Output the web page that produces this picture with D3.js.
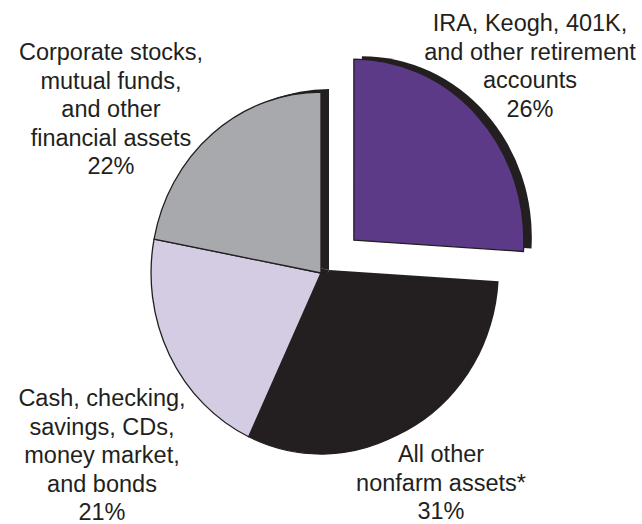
<!DOCTYPE html>
<html lang="en">
<head>
  <meta charset="UTF-8">
  <title>Household assets pie</title>
  <script src="https://d3js.org/d3.v7.min.js"></script>
  <style>
    body { margin: 0; background: #fff; }
    svg { display: block; }
    .label { font-family: "Liberation Sans", Arial, Helvetica, sans-serif; font-size: 23.5px; fill: #231f20; }
  </style>
</head>
<body>
  <svg width="642" height="524"></svg>

  <script>
    // slices, clockwise from 12 o'clock
    const categories = [
      "IRA, Keogh, 401K, and other retirement accounts",
      "All other nonfarm assets*",
      "Cash, checking, savings, CDs, money market, and bonds",
      "Corporate stocks, mutual funds, and other financial assets"
    ];
    const values = [26, 31, 21, 22];
    const labelLines = [
      ["IRA, Keogh, 401K,", "and other retirement", "accounts"],
      ["All other", "nonfarm assets*"],
      ["Cash, checking,", "savings, CDs,", "money market,", "and bonds"],
      ["Corporate stocks,", "mutual funds,", "and other", "financial assets"]
    ];
    const colors = ["#5c3a88", "#231f20", "#d3cce3", "#a7a9ac"];
    const explodedIndex = 0;

    const svg = d3.select("svg");
    const cx = 321, cy = 273;
    const radius = 181;
    const sx = 0.939;           // pie is a bit narrower than tall
    const explode = 48;
    const shadow = { x: 8, y: -3 };
    const lineHeight = 28.6;

    // where each label block sits (centre x, first baseline y)
    const labelPos = [
      { x: 530, y: 31 },
      { x: 441, y: 462 },
      { x: 102, y: 406 },
      { x: 111, y: 60 }
    ];

    const pie = d3.pie().sort(null).value(d => d);
    const arcs = pie(values);
    const arc = d3.arc().innerRadius(0).outerRadius(radius);

    function offsetOf(d, i) {
      if (i !== explodedIndex) return [0, 0];
      const mid = (d.startAngle + d.endAngle) / 2;
      return [Math.sin(mid) * explode * sx, -Math.cos(mid) * explode];
    }

    const chart = svg.append("g").attr("transform", `translate(${cx},${cy})`);

    // dark extruded body behind every slice
    chart.append("g").selectAll("path")
      .data(arcs)
      .join("path")
      .attr("d", arc)
      .attr("fill", "#231f20")
      .attr("transform", (d, i) => {
        const [ox, oy] = offsetOf(d, i);
        return `translate(${ox + shadow.x},${oy + shadow.y}) scale(${sx},1)`;
      });

    chart.append("g").selectAll("path")
      .data(arcs)
      .join("path")
      .attr("d", arc)
      .attr("fill", (d, i) => colors[i])
      .attr("stroke", "#231f20")
      .attr("stroke-width", 1.3)
      .attr("stroke-linejoin", "round")
      .attr("vector-effect", "non-scaling-stroke")
      .attr("transform", (d, i) => {
        const [ox, oy] = offsetOf(d, i);
        return `translate(${ox},${oy}) scale(${sx},1)`;
      });

    // labels
    arcs.forEach((d, i) => {
      const lines = labelLines[i].concat([`${values[i]}%`]);
      const t = svg.append("text")
        .attr("class", "label")
        .attr("text-anchor", "middle");
      lines.forEach((line, j) => {
        t.append("tspan")
          .attr("x", labelPos[i].x)
          .attr("y", labelPos[i].y + j * lineHeight)
          .text(line);
      });
    });
  </script>
</body>
</html>
